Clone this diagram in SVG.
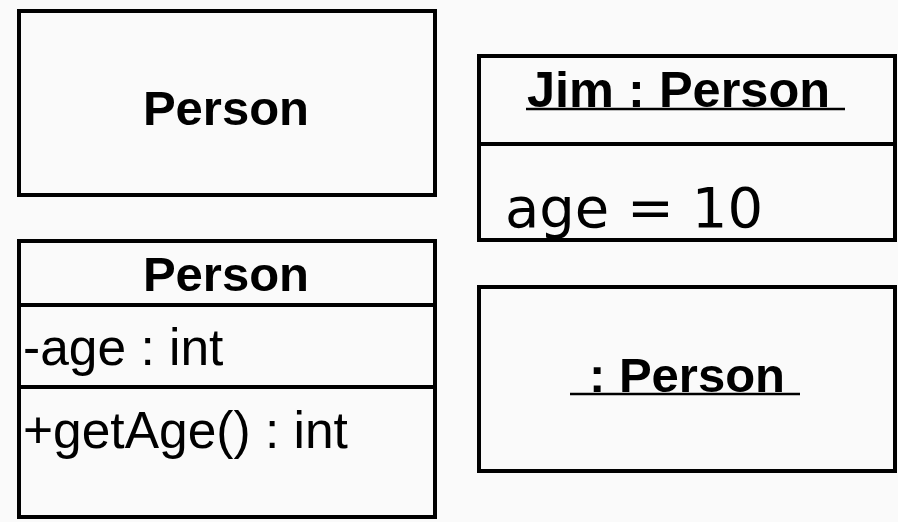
<svg xmlns="http://www.w3.org/2000/svg" width="898" height="522" viewBox="0 0 898 522">
  <style>
    .box { fill: #fafafa; stroke: #000; stroke-width: 4; }
    .div { stroke: #000; stroke-width: 4; }
    .ul { stroke: #000; stroke-width: 2.5; }
    .title { font-family: "Liberation Sans", Arial, sans-serif; font-weight: bold; font-size: 49px; fill: #000; }
    .member { font-family: "Liberation Sans", Arial, sans-serif; font-size: 51.5px; fill: #000; }
    .value { font-family: "DejaVu Sans", sans-serif; font-size: 56px; fill: #000; }
  </style>
  <rect x="0" y="0" width="898" height="522" fill="#fafafa"/>

  <!-- simple class box -->
  <g id="class-simple">
    <rect class="box" x="19" y="11" width="416" height="184"/>
    <text class="title" x="226" y="125" text-anchor="middle">Person</text>
  </g>

  <!-- class with attribute and operation compartments -->
  <g id="class-full">
    <rect class="box" x="19" y="241" width="416" height="276"/>
    <line class="div" x1="19" y1="305" x2="435" y2="305"/>
    <line class="div" x1="19" y1="387" x2="435" y2="387"/>
    <text class="title" x="226" y="291" text-anchor="middle">Person</text>
    <text class="member" x="23" y="365">-age : int</text>
    <text class="member" x="23" y="448">+getAge() : int</text>
  </g>

  <!-- named object -->
  <g id="object-jim">
    <rect class="box" x="479" y="56" width="416" height="184"/>
    <line class="div" x1="479" y1="144" x2="895" y2="144"/>
    <text class="title" x="527" y="107" style="font-size:50.5px">Jim : Person</text>
    <line class="ul" x1="526" y1="109" x2="845" y2="109"/>
    <text class="value" x="505" y="227">age = 10</text>
  </g>

  <!-- anonymous object -->
  <g id="object-anon">
    <rect class="box" x="479" y="287" width="416" height="184"/>
    <text class="title" x="589" y="392">: Person</text>
    <line class="ul" x1="570" y1="394" x2="800" y2="394"/>
  </g>
</svg>
